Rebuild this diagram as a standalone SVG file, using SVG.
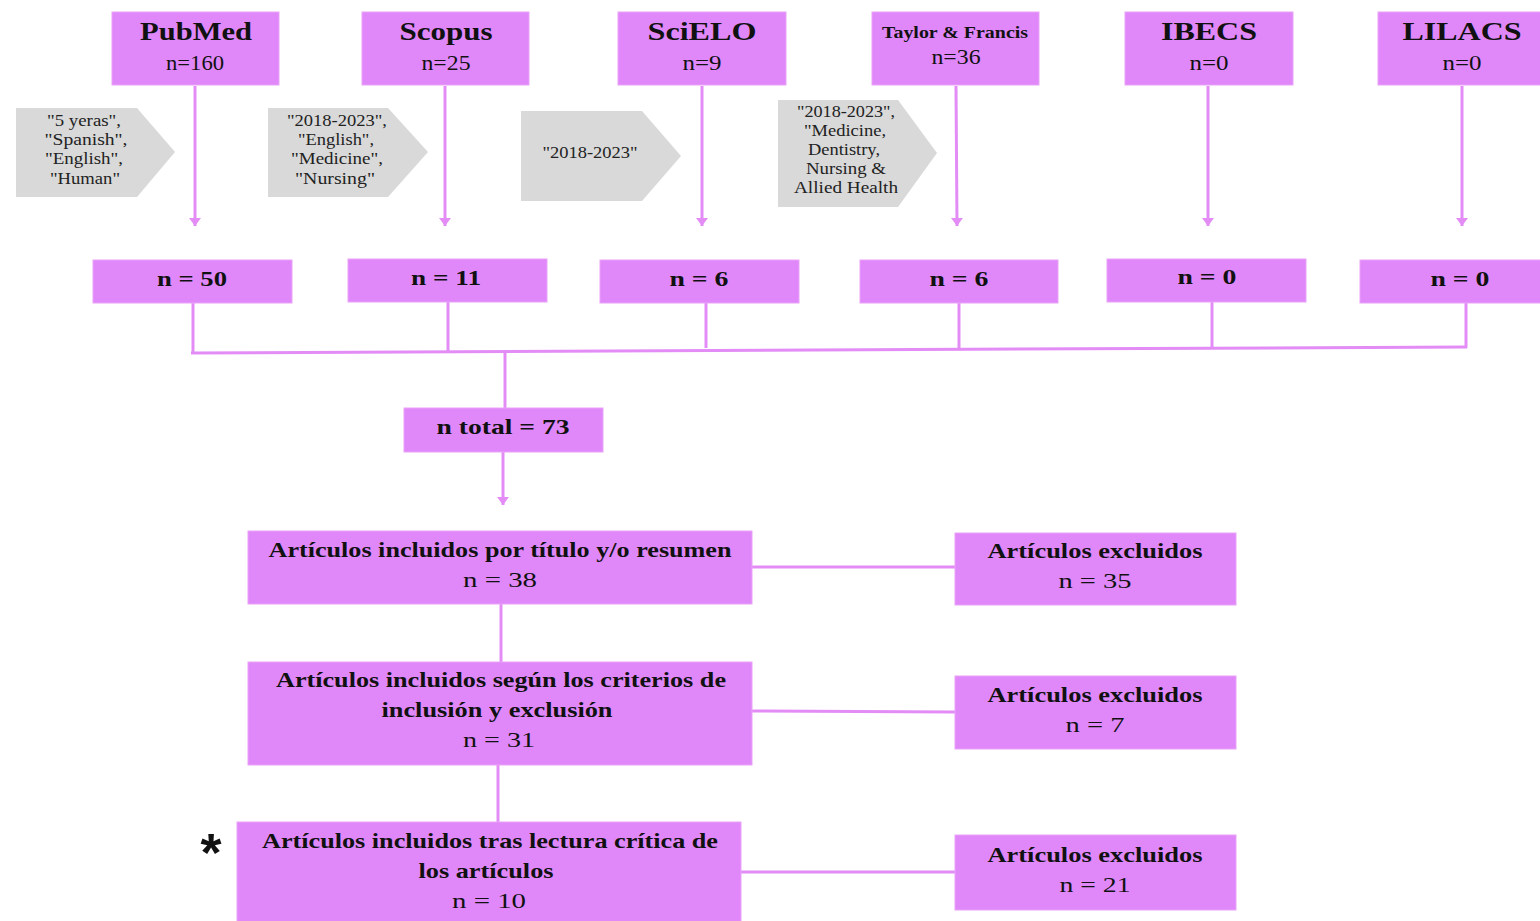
<svg xmlns="http://www.w3.org/2000/svg" width="1540" height="921" viewBox="0 0 1540 921">
<defs>
<style>
.box{fill:#E088FA;stroke:#E9A2F8;stroke-width:1}
.tag{fill:#D9D9D9}
.ln{fill:none;stroke:#E38CF6;stroke-width:3}
.t{font-family:"Liberation Serif","Times New Roman",serif;fill:#111;text-anchor:middle}
.b{font-weight:bold}
.h1{font-size:26px;font-weight:bold}
.h2{font-size:21px}
.g{font-size:16px;fill:#222}
.m{font-size:22px}
</style>
<marker id="ah" viewBox="0 0 8 12" refX="8" refY="6" markerWidth="8" markerHeight="12" markerUnits="userSpaceOnUse" orient="auto">
<path d="M0,0 L8,6 L0,12 Z" fill="#E38CF6"/>
</marker>
</defs>
<rect width="1540" height="921" fill="#fff"/>

<g id="connectors">
<line class="ln" x1="195" y1="86" x2="195" y2="226" marker-end="url(#ah)"/>
<line class="ln" x1="445" y1="86" x2="445" y2="226" marker-end="url(#ah)"/>
<line class="ln" x1="702" y1="86" x2="702" y2="226" marker-end="url(#ah)"/>
<line class="ln" x1="956" y1="86" x2="957" y2="226" marker-end="url(#ah)"/>
<line class="ln" x1="1208" y1="86" x2="1208" y2="226" marker-end="url(#ah)"/>
<line class="ln" x1="1462" y1="86" x2="1462" y2="226" marker-end="url(#ah)"/>
<line class="ln" x1="193" y1="303" x2="193" y2="352"/>
<line class="ln" x1="448" y1="302" x2="448" y2="352"/>
<line class="ln" x1="706" y1="303" x2="706" y2="348"/>
<line class="ln" x1="959" y1="303" x2="959" y2="348"/>
<line class="ln" x1="1212" y1="302" x2="1212" y2="348"/>
<line class="ln" x1="1466" y1="303" x2="1466" y2="348"/>
<line class="ln" x1="191" y1="353" x2="1467" y2="347"/>
<line class="ln" x1="505" y1="352" x2="505" y2="408"/>
<line class="ln" x1="503" y1="452" x2="503" y2="505" marker-end="url(#ah)"/>
<line class="ln" x1="752" y1="567" x2="955" y2="567"/>
<line class="ln" x1="501" y1="604" x2="501" y2="662"/>
<line class="ln" x1="752" y1="711" x2="955" y2="712"/>
<line class="ln" x1="498" y1="765" x2="498" y2="822"/>
<line class="ln" x1="741" y1="872" x2="955" y2="872"/>
</g>

<g id="pubmed"><rect class="box" x="112" y="12" width="167" height="73"/>
<text class="t h1" x="196" y="40" textLength="112" lengthAdjust="spacingAndGlyphs">PubMed</text>
<text class="t h2" x="195" y="70" textLength="58" lengthAdjust="spacingAndGlyphs">n=160</text></g>
<g id="scopus"><rect class="box" x="362" y="12" width="167" height="73"/>
<text class="t h1" x="446" y="40" textLength="93" lengthAdjust="spacingAndGlyphs">Scopus</text>
<text class="t h2" x="446" y="70" textLength="49" lengthAdjust="spacingAndGlyphs">n=25</text></g>
<g id="scielo"><rect class="box" x="618" y="12" width="168" height="73"/>
<text class="t h1" x="702" y="40" textLength="109" lengthAdjust="spacingAndGlyphs">SciELO</text>
<text class="t h2" x="702" y="70" textLength="39" lengthAdjust="spacingAndGlyphs">n=9</text></g>
<g id="taylor"><rect class="box" x="872" y="12" width="167" height="73"/>
<text class="t b" style="font-size:17px" x="955" y="38" textLength="146" lengthAdjust="spacingAndGlyphs">Taylor &amp; Francis</text>
<text class="t h2" x="956" y="64" textLength="49" lengthAdjust="spacingAndGlyphs">n=36</text></g>
<g id="ibecs"><rect class="box" x="1125" y="12" width="168" height="73"/>
<text class="t h1" x="1209" y="40" textLength="96" lengthAdjust="spacingAndGlyphs">IBECS</text>
<text class="t h2" x="1209" y="70" textLength="39" lengthAdjust="spacingAndGlyphs">n=0</text></g>
<g id="lilacs"><rect class="box" x="1378" y="12" width="170" height="73"/>
<text class="t h1" x="1462" y="40" textLength="119" lengthAdjust="spacingAndGlyphs">LILACS</text>
<text class="t h2" x="1462" y="70" textLength="39" lengthAdjust="spacingAndGlyphs">n=0</text></g>

<g id="filter-pubmed"><path class="tag" d="M16,108 H137 L175,152 L137,197 H16 Z"/>
<text class="t g" x="84" y="126" textLength="74" lengthAdjust="spacingAndGlyphs">"5 yeras",</text>
<text class="t g" x="86" y="145" textLength="83" lengthAdjust="spacingAndGlyphs">"Spanish",</text>
<text class="t g" x="84" y="164" textLength="78" lengthAdjust="spacingAndGlyphs">"English",</text>
<text class="t g" x="85" y="184" textLength="70" lengthAdjust="spacingAndGlyphs">"Human"</text></g>
<g id="filter-scopus"><path class="tag" d="M268,108 H388 L428,152 L388,197 H268 Z"/>
<text class="t g" x="337" y="126" textLength="100" lengthAdjust="spacingAndGlyphs">"2018-2023",</text>
<text class="t g" x="336" y="145" textLength="76" lengthAdjust="spacingAndGlyphs">"English",</text>
<text class="t g" x="337" y="164" textLength="92" lengthAdjust="spacingAndGlyphs">"Medicine",</text>
<text class="t g" x="335" y="184" textLength="80" lengthAdjust="spacingAndGlyphs">"Nursing"</text></g>
<g id="filter-scielo"><path class="tag" d="M521,111 H642 L681,156 L642,201 H521 Z"/>
<text class="t g" x="590" y="158" textLength="95" lengthAdjust="spacingAndGlyphs">"2018-2023"</text></g>
<g id="filter-taylor"><path class="tag" d="M778,100 H898 L937,153 L898,207 H778 Z"/>
<text class="t g" x="846" y="117" textLength="98" lengthAdjust="spacingAndGlyphs">"2018-2023",</text>
<text class="t g" x="845" y="136" textLength="82" lengthAdjust="spacingAndGlyphs">"Medicine,</text>
<text class="t g" x="844" y="155" textLength="72" lengthAdjust="spacingAndGlyphs">Dentistry,</text>
<text class="t g" x="846" y="174" textLength="80" lengthAdjust="spacingAndGlyphs">Nursing &amp;</text>
<text class="t g" x="846" y="193" textLength="104" lengthAdjust="spacingAndGlyphs">Allied Health</text></g>

<g id="n-pubmed"><rect class="box" x="93" y="260" width="199" height="43"/>
<text class="t b m" x="192" y="286" textLength="70" lengthAdjust="spacingAndGlyphs">n = 50</text></g>
<g id="n-scopus"><rect class="box" x="348" y="259" width="199" height="43"/>
<text class="t b m" x="446" y="285" textLength="70" lengthAdjust="spacingAndGlyphs">n = 11</text></g>
<g id="n-scielo"><rect class="box" x="600" y="260" width="199" height="43"/>
<text class="t b m" x="699" y="286" textLength="59" lengthAdjust="spacingAndGlyphs">n = 6</text></g>
<g id="n-taylor"><rect class="box" x="860" y="260" width="198" height="43"/>
<text class="t b m" x="959" y="286" textLength="59" lengthAdjust="spacingAndGlyphs">n = 6</text></g>
<g id="n-ibecs"><rect class="box" x="1107" y="259" width="199" height="43"/>
<text class="t b m" x="1207" y="284" textLength="59" lengthAdjust="spacingAndGlyphs">n = 0</text></g>
<g id="n-lilacs"><rect class="box" x="1360" y="260" width="190" height="43"/>
<text class="t b m" x="1460" y="286" textLength="59" lengthAdjust="spacingAndGlyphs">n = 0</text></g>

<g id="n-total"><rect class="box" x="404" y="408" width="199" height="44"/>
<text class="t b m" x="503" y="434" textLength="133" lengthAdjust="spacingAndGlyphs">n total = 73</text></g>

<g id="incl-titulo"><rect class="box" x="248" y="531" width="504" height="73"/>
<text class="t b m" x="500" y="557" textLength="463" lengthAdjust="spacingAndGlyphs">Artículos incluidos por título y/o resumen</text>
<text class="t m" x="500" y="587" textLength="74" lengthAdjust="spacingAndGlyphs">n = 38</text></g>
<g id="incl-criterios"><rect class="box" x="248" y="662" width="504" height="103"/>
<text class="t b m" x="501" y="687" textLength="450" lengthAdjust="spacingAndGlyphs">Artículos incluidos según los criterios de</text>
<text class="t b m" x="497" y="717" textLength="231" lengthAdjust="spacingAndGlyphs">inclusión y exclusión</text>
<text class="t m" x="499" y="747" textLength="72" lengthAdjust="spacingAndGlyphs">n = 31</text></g>
<g id="incl-lectura"><rect class="box" x="237" y="822" width="504" height="104"/>
<text class="t b m" x="490" y="848" textLength="456" lengthAdjust="spacingAndGlyphs">Artículos incluidos tras lectura crítica de</text>
<text class="t b m" x="486" y="878" textLength="135" lengthAdjust="spacingAndGlyphs">los artículos</text>
<text class="t m" x="489" y="908" textLength="74" lengthAdjust="spacingAndGlyphs">n = 10</text></g>
<text id="asterisk" x="211" y="871" style="font-family:'Liberation Sans',Arial,sans-serif;font-weight:bold;font-size:54px;fill:#111;text-anchor:middle">*</text>

<g id="excl-1"><rect class="box" x="955" y="533" width="281" height="72"/>
<text class="t b m" x="1095" y="558" textLength="215" lengthAdjust="spacingAndGlyphs">Artículos excluidos</text>
<text class="t m" x="1095" y="588" textLength="73" lengthAdjust="spacingAndGlyphs">n = 35</text></g>
<g id="excl-2"><rect class="box" x="955" y="676" width="281" height="73"/>
<text class="t b m" x="1095" y="702" textLength="215" lengthAdjust="spacingAndGlyphs">Artículos excluidos</text>
<text class="t m" x="1095" y="732" textLength="59" lengthAdjust="spacingAndGlyphs">n = 7</text></g>
<g id="excl-3"><rect class="box" x="955" y="835" width="281" height="75"/>
<text class="t b m" x="1095" y="862" textLength="215" lengthAdjust="spacingAndGlyphs">Artículos excluidos</text>
<text class="t m" x="1095" y="892" textLength="71" lengthAdjust="spacingAndGlyphs">n = 21</text></g>
</svg>
